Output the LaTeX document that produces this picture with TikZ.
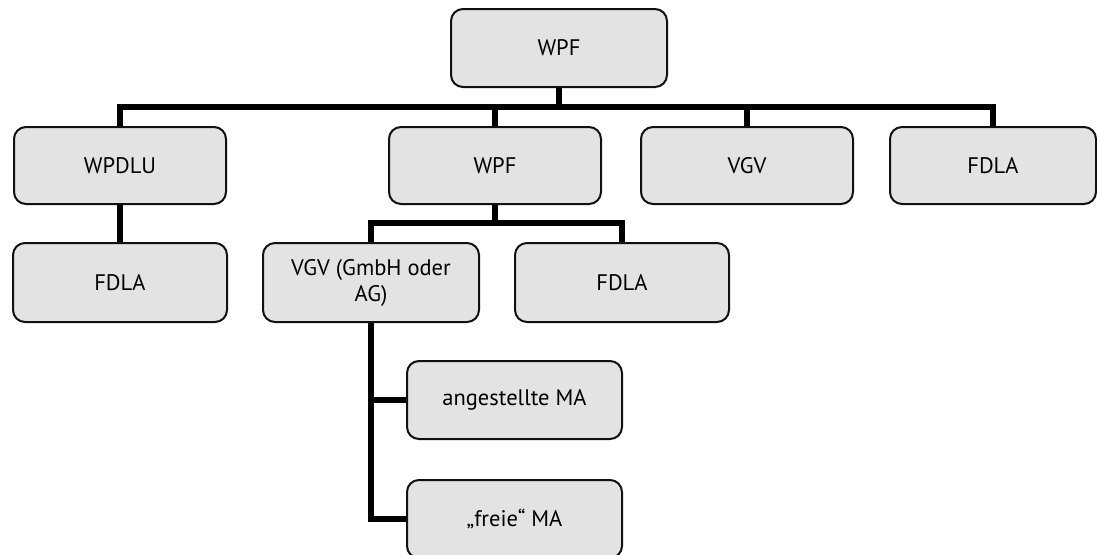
\documentclass[tikz,border=0pt]{standalone}
\usepackage{fontspec}
\setmainfont{PT Sans}
\usetikzlibrary{positioning}
\definecolor{cBox}{HTML}{E3E3E3}
\definecolor{cLine}{HTML}{111111}
\tikzset{
  orgbox/.style={draw=cLine, rounded corners=12pt, fill=cBox, line width=2pt,
                 minimum width=212pt, minimum height=77pt, align=center,
                 inner sep=4pt, font=\fontsize{22.5}{26}\selectfont},
  link/.style={line width=5.5pt, black},
}

\begin{document}
\begin{tikzpicture}[x=1pt,y=-1pt]
  \useasboundingbox (0,0) rectangle (1097,554);
  \node[orgbox, minimum width=216pt, minimum height=78pt] (wpf) at (559,48) {WPF};
  % second row
  \node[orgbox] (wpdlu) at (120,165.5) {WPDLU};
  \node[orgbox] (wpfsub) at (495,165.5) {WPF};
  \node[orgbox] (vgv) at (747,165.5) {VGV};
  \node[orgbox, minimum width=206pt] (fdla) at (993,165.5) {FDLA};
  % third row
  \node[orgbox, minimum width=214pt, minimum height=79pt] (fdlaa) at (120,282.5) {FDLA};
  \node[orgbox, minimum width=216pt, minimum height=79pt] (vgvag) at (371,282.5) {VGV (GmbH oder\\AG)};
  \node[orgbox, minimum width=214pt, minimum height=79pt] (fdlab) at (622,282.5) {FDLA};
  % fourth row
  \node[orgbox, minimum width=215pt, minimum height=78pt] (angma) at (514.5,400) {angestellte MA};
  \node[orgbox, minimum width=215pt, minimum height=78pt, below=39pt of angma] (freima) {„freie“ MA};

  % connectors
  \coordinate (busa) at (559,107);
  \coordinate (busb) at (495,223);
  \draw[link] (wpf.south) -- (busa);
  \draw[link] (wpdlu.north) -- (wpdlu.north |- busa) -- (fdla.north |- busa) -- (fdla.north);
  \draw[link] (wpfsub.north) -- (wpfsub.north |- busa);
  \draw[link] (vgv.north) -- (vgv.north |- busa);
  \draw[link] (wpdlu) -- (fdlaa);
  \draw[link] (wpfsub.south) -- (busb);
  \draw[link] (vgvag.north) -- (vgvag.north |- busb) -- (fdlab.north |- busb) -- (fdlab.north);
  \draw[link] (vgvag.south) |- (freima.west);
  \draw[link] (vgvag.south |- angma.west) -- (angma.west);
\end{tikzpicture}
\end{document}
